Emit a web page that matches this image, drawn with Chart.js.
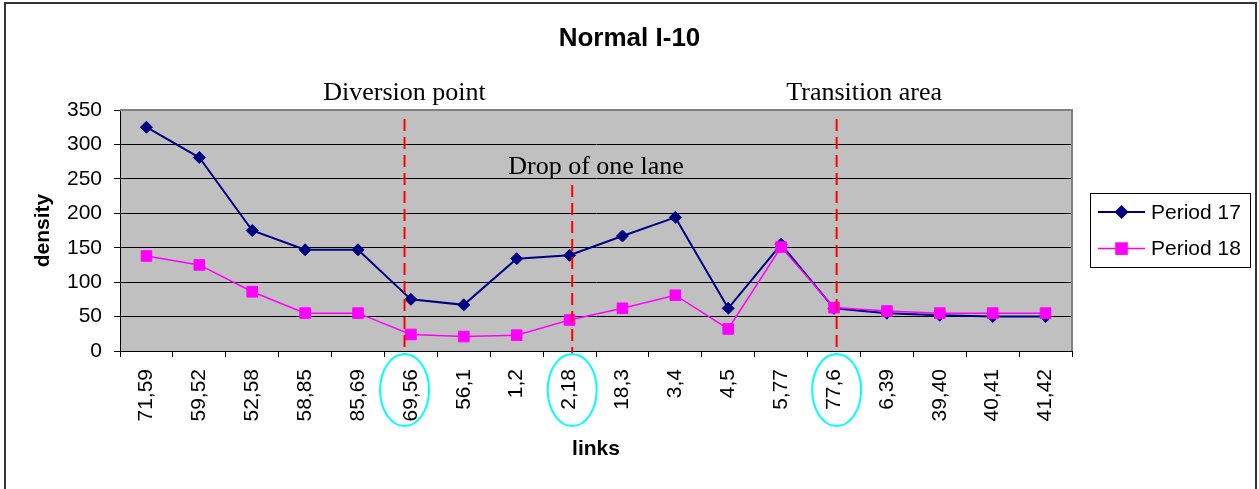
<!DOCTYPE html>
<html><head><meta charset="utf-8">
<script src="https://cdn.jsdelivr.net/npm/chart.js@4/dist/chart.umd.min.js"></script>
<style>html,body{margin:0;padding:0;background:#fff;overflow:hidden}canvas{display:block}</style>
</head><body>
<canvas id="c" width="1259" height="489"></canvas>
<script>
const categories = ['71,59','59,52','52,58','58,85','85,69','69,56','56,1','1,2','2,18','18,3','3,4','4,5','5,77','77,6','6,39','39,40','40,41','41,42'];
const period17 = [325,281,175,147,147,75,67,134,139,167,194,62,155,62,55,52,50,50];
const period18 = [138,125,86,55,55,24,21,23,45,62,81,32,151,63,58,55,55,55];
const seriesNames = ['Period 17','Period 18'];
const yMin = 0, yMax = 350, yStep = 50;
const chartTitle = 'Normal I-10';
const xTitle = 'links', yTitle = 'density';
// annotation markers: category index (fractional) of dashed line, value where the line starts
const markerLines = [4.88, 8.05, 13.05];
const markerTops = [337, 241, 337];
const notes = [
  {text:'Diversion point', at:4.88, value:377},
  {text:'Drop of one lane', at:8.5, value:270},
  {text:'Transition area', at:13.57, value:377}
];

const SANS = '"Liberation Sans", Arial, sans-serif';
const SERIF = '"Liberation Serif", "Times New Roman", serif';

const deco = {
  id:'deco',
  beforeDraw(chart){
    const {ctx, chartArea:a} = chart;
    ctx.save();
    ctx.fillStyle = '#fff';
    ctx.fillRect(0,0,chart.width,chart.height);
    ctx.fillStyle = '#C0C0C0';
    ctx.fillRect(a.left, a.top, a.right-a.left, a.bottom-a.top);
    ctx.restore();
  },
  afterDatasetsDraw(chart){
    const {ctx, chartArea:a, scales:{x,y}} = chart;
    ctx.save();
    ctx.strokeStyle = '#808080'; ctx.lineWidth = 2;
    ctx.beginPath(); ctx.moveTo(a.left, a.top); ctx.lineTo(a.right, a.top); ctx.lineTo(a.right, a.bottom); ctx.stroke();
    ctx.strokeStyle = '#FF0000'; ctx.lineWidth = 2; ctx.setLineDash([12,6]);
    markerLines.forEach((m,i)=>{
      const px = x.getPixelForValue(m);
      ctx.beginPath(); ctx.moveTo(px, y.getPixelForValue(markerTops[i])); ctx.lineTo(px, a.bottom+3); ctx.stroke();
    });
    ctx.setLineDash([]);
    ctx.strokeStyle = '#00FFFF'; ctx.lineWidth = 2;
    markerLines.forEach(m=>{
      const px = x.getPixelForValue(m);
      ctx.beginPath(); ctx.ellipse(px, a.bottom+39, 24.5, 36, 0, 0, Math.PI*2); ctx.stroke();
    });
    ctx.fillStyle = '#000'; ctx.font = '26px ' + SERIF; ctx.textAlign = 'center'; ctx.textBaseline = 'alphabetic';
    notes.forEach(n=>{
      ctx.fillText(n.text, x.getPixelForValue(n.at), y.getPixelForValue(n.value) + 9);
    });
    ctx.restore();
  },
  afterDraw(chart){
    const {ctx} = chart;
    ctx.save();
    ctx.fillStyle = '#000'; ctx.font = 'bold 26px ' + SANS; ctx.textAlign = 'center'; ctx.textBaseline = 'middle';
    ctx.fillText(chartTitle, chart.width/2, 39);
    const lx = 1090, ly = 193, lw = 160, lh = 74;
    ctx.strokeStyle = '#000'; ctx.lineWidth = 1;
    ctx.strokeRect(lx+0.5, ly+0.5, lw, lh);
    chart.data.datasets.forEach((ds,i)=>{
      const cy = 212 + i*36.6;
      ctx.strokeStyle = ds.borderColor; ctx.lineWidth = ds.borderWidth;
      ctx.beginPath(); ctx.moveTo(1098, cy); ctx.lineTo(1145, cy); ctx.stroke();
      ctx.fillStyle = ds.backgroundColor;
      ctx.beginPath();
      if (ds.pointStyle === 'rectRot') {
        const r = ds.pointRadius + 1;
        ctx.moveTo(1121.5, cy-r); ctx.lineTo(1121.5+r, cy); ctx.lineTo(1121.5, cy+r); ctx.lineTo(1121.5-r, cy); ctx.closePath();
      } else {
        const s = ds.pointRadius*Math.SQRT1_2 + 1;
        ctx.rect(1121.5-s, cy-s, 2*s, 2*s);
      }
      ctx.fill();
      ctx.fillStyle = '#000'; ctx.font = '21px ' + SANS; ctx.textAlign = 'left'; ctx.textBaseline = 'middle';
      ctx.fillText(ds.label, 1151, cy+1);
    });
    ctx.strokeStyle = '#333'; ctx.lineWidth = 2;
    ctx.strokeRect(5, 3, 1251, 520);
    ctx.restore();
  }
};

new Chart(document.getElementById('c'), {
  type:'line',
  data:{
    labels: categories,
    datasets:[
      {label:seriesNames[0], data:period17, borderColor:'#000080', backgroundColor:'#000080', borderWidth:2,
       pointStyle:'rectRot', pointRadius:6, pointBorderWidth:1, tension:0, order:1},
      {label:seriesNames[1], data:period18, borderColor:'#FF00FF', backgroundColor:'#FF00FF', borderWidth:1.5,
       pointStyle:'rect', pointRadius:7.5, pointBorderWidth:1, tension:0, order:0}
    ]
  },
  options:{
    responsive:false, animation:false, devicePixelRatio:1,
    layout:{padding:{top:110, left:0, right:187, bottom:0}},
    plugins:{legend:{display:false}, title:{display:false}, tooltip:{enabled:false}},
    scales:{
      x:{
        type:'category', offset:true,
        grid:{offset:true, drawOnChartArea:false, drawTicks:true, tickLength:6, color:'#000'},
        border:{display:true, color:'#000', width:1},
        ticks:{minRotation:90, maxRotation:90, autoSkip:false, padding:12, color:'#000', font:{family:SANS, size:21}},
        title:{display:true, text:xTitle, color:'#000', font:{family:SANS, size:21, weight:'bold'}, padding:{top:0, bottom:27}},
        afterFit(s){ s.height = 138; }
      },
      y:{
        min:yMin, max:yMax,
        grid:{color:'#000', drawTicks:true, tickLength:6},
        border:{display:true, color:'#000', width:1},
        ticks:{stepSize:yStep, padding:12, color:'#000', font:{family:SANS, size:21}},
        title:{display:true, text:yTitle, color:'#000', font:{family:SANS, size:21, weight:'bold'}, padding:{top:31, bottom:0}},
        afterFit(s){ s.width = 120; }
      }
    }
  },
  plugins:[deco]
});
</script>
</body></html>
